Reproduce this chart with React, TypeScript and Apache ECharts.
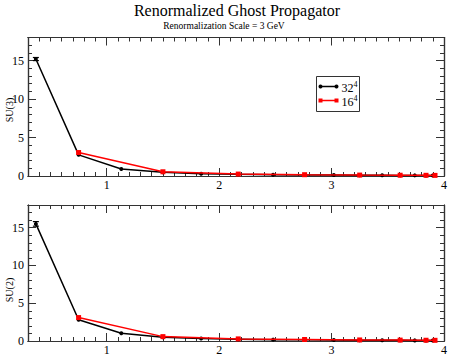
import React, { useEffect, useRef } from "react";
import * as echarts from "echarts";

// ---- data ----
const xMajorTicks = [1, 2, 3, 4];
const yMajorTicks = [0, 5, 10, 15];

const momenta32 = [0.37, 0.75, 1.13, 1.5, 1.84, 2.17, 2.48, 2.76, 3.02, 3.25, 3.45, 3.61, 3.74, 3.84, 3.9];
const momenta16 = [0.75, 1.5, 2.17, 2.76, 3.25, 3.61, 3.84, 3.92];

const su3Lat32 = [15.2, 2.75, 0.92, 0.48, 0.3, 0.22, 0.17, 0.14, 0.12, 0.1, 0.09, 0.08, 0.08, 0.07, 0.07];
const su3Lat16 = [3.05, 0.55, 0.25, 0.17, 0.12, 0.1, 0.09, 0.08];
const su3Err32 = [0.2, 0, 0, 0, 0, 0, 0, 0, 0, 0, 0, 0, 0, 0, 0];

const su2Lat32 = [15.5, 2.82, 1.03, 0.51, 0.32, 0.24, 0.18, 0.15, 0.13, 0.11, 0.1, 0.09, 0.08, 0.08, 0.07];
const su2Lat16 = [3.1, 0.58, 0.28, 0.2, 0.14, 0.12, 0.1, 0.09];
const su2Err32 = [0.3, 0, 0, 0, 0, 0, 0, 0, 0, 0, 0, 0, 0, 0, 0];

const X_MIN = 0.3;
const X_MAX = 4;
const Y_MIN = 0;
const Y_MAX = 18;

const SERIF = '"Liberation Serif", "DejaVu Serif", serif';
const FRAME = "#333";

function minorTicks(lo: number, hi: number, step: number, majors: number[]) {
  const out: number[] = [];
  const n = Math.round((hi - lo) / step);
  for (let i = 0; i <= n; i++) {
    const v = Math.round((lo + i * step) * 1000) / 1000;
    if (!majors.some((m) => Math.abs(m - v) < 1e-6)) out.push(v);
  }
  return out;
}
const xMinorTicks = minorTicks(X_MIN, X_MAX, 0.1, xMajorTicks);
const yMinorTicks = minorTicks(Y_MIN, 17, 1, yMajorTicks);

function zip(xs: number[], ys: number[]) {
  return xs.map((x, i) => [x, ys[i]]);
}

function xAx(grid: number, pos: string, major: boolean, labels: boolean) {
  return {
    type: "value",
    gridIndex: grid,
    position: pos,
    min: X_MIN,
    max: X_MAX,
    axisLine: { show: true, onZero: false, lineStyle: { color: FRAME, width: 1.2 } },
    axisTick: {
      show: true,
      inside: true,
      length: major ? 8 : 4,
      customValues: major ? xMajorTicks : xMinorTicks,
      lineStyle: { color: FRAME, width: 1 },
    },
    axisLabel: labels
      ? {
          show: true,
          customValues: xMajorTicks,
          fontFamily: SERIF,
          fontSize: 12,
          color: "#000",
          margin: 3,
          showMaxLabel: true,
        }
      : { show: false },
    splitLine: { show: false },
  };
}

function yAx(grid: number, pos: string, major: boolean, labels: boolean) {
  return {
    type: "value",
    gridIndex: grid,
    position: pos,
    min: Y_MIN,
    max: Y_MAX,
    axisLine: { show: true, onZero: false, lineStyle: { color: FRAME, width: 1.2 } },
    axisTick: {
      show: true,
      inside: true,
      length: major ? 8 : 4,
      customValues: major ? yMajorTicks : yMinorTicks,
      lineStyle: { color: FRAME, width: 1 },
    },
    axisLabel: labels
      ? {
          show: true,
          customValues: yMajorTicks,
          fontFamily: SERIF,
          fontSize: 12,
          color: "#000",
          margin: 4,
        }
      : { show: false },
    splitLine: { show: false },
  };
}

function panelAxes(grid: number) {
  return {
    x: [xAx(grid, "bottom", true, true), xAx(grid, "bottom", false, false), xAx(grid, "top", true, false), xAx(grid, "top", false, false)],
    y: [yAx(grid, "left", true, true), yAx(grid, "left", false, false), yAx(grid, "right", true, false), yAx(grid, "right", false, false)],
  };
}

function errorSeries(axisIdx: number, xs: number[], ys: number[], errs: number[]) {
  const data = xs.map((x, i) => [x, ys[i], errs[i]]).filter((d) => d[2] > 0);
  return {
    type: "custom",
    xAxisIndex: axisIdx,
    yAxisIndex: axisIdx,
    z: 3,
    data,
    renderItem: (params: any, api: any) => {
      const x = api.value(0);
      const y = api.value(1);
      const e = api.value(2);
      const hi = api.coord([x, y + e]);
      const lo = api.coord([x, y - e]);
      const w = 3;
      const st = { stroke: "#000", lineWidth: 1.2 };
      return {
        type: "group",
        children: [
          { type: "line", shape: { x1: hi[0], y1: hi[1], x2: lo[0], y2: lo[1] }, style: st },
          { type: "line", shape: { x1: hi[0] - w, y1: hi[1], x2: hi[0] + w, y2: hi[1] }, style: st },
          { type: "line", shape: { x1: lo[0] - w, y1: lo[1], x2: lo[0] + w, y2: lo[1] }, style: st },
        ],
      };
    },
  };
}

function lineSeries(axisIdx: number, data: number[][], color: string, symbol: string, size: number, z: number) {
  return {
    type: "line",
    xAxisIndex: axisIdx,
    yAxisIndex: axisIdx,
    data,
    symbol,
    symbolSize: size,
    showSymbol: true,
    z,
    lineStyle: { color, width: 1.5 },
    itemStyle: { color, borderWidth: 0 },
  };
}

function legendGroup() {
  const rich = {
    b: { fontFamily: SERIF, fontSize: 12, fill: "#000", lineHeight: 15 },
    s: { fontFamily: SERIF, fontSize: 8, fill: "#000", verticalAlign: "top", lineHeight: 8 },
  };
  return {
    type: "group",
    left: 316,
    top: 76,
    children: [
      { type: "rect", shape: { x: 0, y: 0, width: 43, height: 35 }, style: { fill: "#fff", stroke: FRAME, lineWidth: 1 } },
      { type: "line", shape: { x1: 4, y1: 10, x2: 20, y2: 10 }, style: { stroke: "#000", lineWidth: 1.5 } },
      { type: "circle", shape: { cx: 4, cy: 10, r: 2 }, style: { fill: "#000" } },
      { type: "circle", shape: { cx: 20, cy: 10, r: 2 }, style: { fill: "#000" } },
      { type: "text", x: 25, y: 11, style: { text: "{b|32}{s|4}", rich, verticalAlign: "middle" } },
      { type: "line", shape: { x1: 4, y1: 24, x2: 20, y2: 24 }, style: { stroke: "#ff0000", lineWidth: 1.5 } },
      { type: "rect", shape: { x: 2, y: 22, width: 4, height: 4 }, style: { fill: "#ff0000" } },
      { type: "rect", shape: { x: 18, y: 22, width: 4, height: 4 }, style: { fill: "#ff0000" } },
      { type: "text", x: 25, y: 25, style: { text: "{b|16}{s|4}", rich, verticalAlign: "middle" } },
    ],
  };
}

export default function App() {
  const ref = useRef<HTMLDivElement>(null);
  useEffect(() => {
    document.body.style.margin = "0";
    if (!ref.current) return;
    const chart = echarts.init(ref.current, null, { renderer: "svg" });
    const p0 = panelAxes(0);
    const p1 = panelAxes(1);
    const option: any = {
      animation: false,
      backgroundColor: "#fff",
      grid: [
        { left: 28, right: 6, top: 37.5, height: 138.5 },
        { left: 28, right: 6, top: 205, height: 138.5 },
      ],
      xAxis: [...p0.x, ...p1.x],
      yAxis: [...p0.y, ...p1.y],
      series: [
        lineSeries(0, zip(momenta32, su3Lat32), "#000", "circle", 4, 2),
        lineSeries(0, zip(momenta16, su3Lat16), "#ff0000", "rect", 5, 4),
        errorSeries(0, momenta32, su3Lat32, su3Err32),
        lineSeries(4, zip(momenta32, su2Lat32), "#000", "circle", 4, 2),
        lineSeries(4, zip(momenta16, su2Lat16), "#ff0000", "rect", 5, 4),
        errorSeries(4, momenta32, su2Lat32, su2Err32),
      ],
      graphic: [
        {
          type: "text",
          x: 237,
          y: 10,
          style: { text: "Renormalized Ghost Propagator", font: `16px ${SERIF}`, fill: "#000", textAlign: "center", verticalAlign: "middle" },
        },
        {
          type: "text",
          x: 224,
          y: 26,
          style: { text: "Renormalization Scale = 3 GeV", font: `9.5px ${SERIF}`, fill: "#000", textAlign: "center", verticalAlign: "middle" },
        },
        {
          type: "text",
          x: 9,
          y: 110,
          rotation: Math.PI / 2,
          style: { text: "SU(3)", font: `10px ${SERIF}`, fill: "#000", textAlign: "center", verticalAlign: "middle" },
        },
        {
          type: "text",
          x: 9,
          y: 290,
          rotation: Math.PI / 2,
          style: { text: "SU(2)", font: `10px ${SERIF}`, fill: "#000", textAlign: "center", verticalAlign: "middle" },
        },
        legendGroup(),
      ],
    };
    chart.setOption(option);
    return () => chart.dispose();
  }, []);
  return <div ref={ref} style={{ width: 450, height: 356 }} />;
}
